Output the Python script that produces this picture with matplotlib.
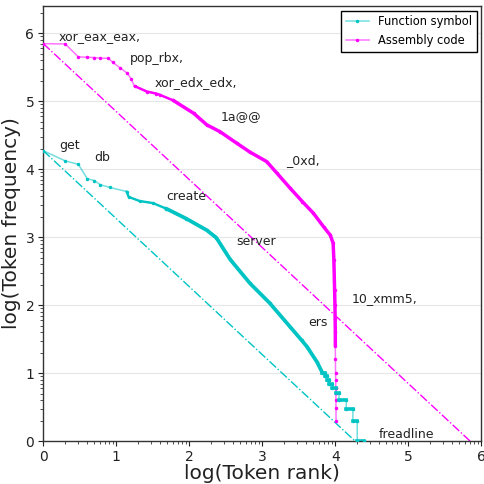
import numpy as np
import matplotlib
matplotlib.use("Agg")
import matplotlib.pyplot as plt
from matplotlib.ticker import FixedLocator

# ---------------- data (log10 rank, log10 frequency) ----------------
asm_x = [0.00, 0.30, 0.48, 0.60, 0.70, 0.78, 0.89, 0.95, 1.05, 1.15, 1.20, 1.25,
         1.42, 1.55, 1.60, 1.78, 2.06, 2.24, 2.42, 2.65, 2.83, 3.06, 3.20, 3.38,
         3.55, 3.70, 3.84, 3.93, 3.97, 3.98, 3.99, 3.995, 3.997, 4.000, 4.000,
         4.001, 4.003, 4.005, 4.006, 4.007, 4.008, 4.009, 4.010]
asm_y = [5.845, 5.84, 5.65, 5.645, 5.64, 5.63, 5.63, 5.57, 5.49, 5.41, 5.33, 5.22,
         5.14, 5.11, 5.09, 5.01, 4.82, 4.65, 4.55, 4.38, 4.25, 4.11, 3.94, 3.72,
         3.52, 3.35, 3.15, 3.03, 2.91, 2.66, 2.22, 2.00, 1.80, 1.60, 1.40,
         1.20, 1.00, 0.90, 0.78, 0.70, 0.60, 0.48, 0.30]

sym_x = [0.00, 0.30, 0.48, 0.60, 0.70, 0.78, 0.91, 1.14, 1.17, 1.32, 1.50, 1.68,
         1.96, 2.24, 2.37, 2.56, 2.83, 3.10, 3.38, 3.54, 3.61, 3.75, 3.82]
sym_y = [4.27, 4.12, 4.07, 3.86, 3.83, 3.77, 3.73, 3.67, 3.59, 3.53, 3.50, 3.42,
         3.27, 3.10, 2.99, 2.67, 2.32, 2.03, 1.68, 1.48, 1.39, 1.16, 1.01]

# tail of Function symbol: integer frequencies (log10) with rank spans
step_y = [1.000, 0.954, 0.903, 0.845, 0.778, 0.699, 0.602, 0.477, 0.301, 0.000]
step_x0 = [3.82, 3.86, 3.88, 3.91, 3.96, 4.01, 4.05, 4.15, 4.24, 4.30]
step_x1 = [3.86, 3.88, 3.91, 3.96, 4.01, 4.05, 4.15, 4.24, 4.30, 4.39]

labels_asm = ["xor_eax_eax,", "pop_rbx,", "xor_edx_edx,", "1a@@", "_0xd,", "10_xmm5,"]
labels_asm_x = [0.215, 1.19, 1.52, 2.43, 3.32, 4.23]
labels_asm_y = [5.94, 5.63, 5.28, 4.77, 4.12, 2.09]

labels_sym = ["get", "db", "create", "server", "ers", "freadline"]
labels_sym_x = [0.22, 0.70, 1.69, 2.64, 3.63, 4.60]
labels_sym_y = [4.35, 4.17, 3.59, 2.93, 1.74, 0.09]

series_names = ["Function symbol", "Assembly code"]

# ---------------- plotting ----------------
CYAN = "#00c4c4"
MAG = "#ff00ff"

fig = plt.figure(figsize=(4.84, 4.84), dpi=100)
ax = fig.add_axes([0.0895, 0.0888, 0.905, 0.899])

def faded(c, a):
    r, g, b, _ = matplotlib.colors.to_rgba(c)
    return (r, g, b, a)

# full symbol series (continuous + step tail)
full_sym_x = list(sym_x)
full_sym_y = list(sym_y)
for y, a, b in zip(step_y, step_x0, step_x1):
    full_sym_x += [a, b]
    full_sym_y += [y, y]

for xs, ys, col, name in [(full_sym_x, full_sym_y, CYAN, series_names[0]),
                          (asm_x, asm_y, MAG, series_names[1])]:
    ax.plot(xs, ys, '-', color=faded(col, 0.55), lw=1.1, marker='.',
            markersize=3, markerfacecolor=col, markeredgecolor=col,
            label=name, zorder=3)

# dense-region emphasis (overlapping markers in the original)
def overlay(xs, ys, col, xmin, xmax, lw, ymin=-1):
    px = [x for x, y in zip(xs, ys) if xmin <= x <= xmax and y >= ymin]
    py = [y for x, y in zip(xs, ys) if xmin <= x <= xmax and y >= ymin]
    ax.plot(px, py, '-', color=col, lw=lw, solid_capstyle='round', zorder=3)

overlay(sym_x, sym_y, CYAN, 1.14, 1.70, 1.7)
overlay(sym_x, sym_y, CYAN, 1.68, 9, 2.7)
overlay(asm_x, asm_y, MAG, 1.25, 1.80, 1.8)
overlay(asm_x, asm_y, MAG, 1.78, 9, 2.5, ymin=1.4)
for y, a, b in zip(step_y, step_x0, step_x1):
    ax.plot([a, b], [y, y], '-', color=CYAN, lw=2.6, zorder=3)

# Zipf reference lines (slope -1 through first point)
ax.plot([0, sym_y[0]], [sym_y[0], 0], linestyle='-.', color=CYAN, lw=1.0, zorder=2)
ax.plot([0, asm_y[0]], [asm_y[0], 0], linestyle='-.', color=MAG, lw=1.0, zorder=2)

for t, x, y in zip(labels_asm, labels_asm_x, labels_asm_y):
    ax.text(x, y, t, fontsize=9, va='center', ha='left', color='#222222')
for t, x, y in zip(labels_sym, labels_sym_x, labels_sym_y):
    ax.text(x, y, t, fontsize=9, va='center', ha='left', color='#222222')

ax.set_xlim(0, 6)
ax.set_ylim(0, 6.4)
ax.set_xticks(range(7))
ax.set_yticks(range(7))
minor = [n + np.log10(k) for n in range(7) for k in range(2, 10)]
ax.xaxis.set_minor_locator(FixedLocator([m for m in minor if m < 6]))
ax.yaxis.set_minor_locator(FixedLocator([m for m in minor if m < 6.4]))
ax.tick_params(which='major', length=3.5, width=0.8, labelsize=10, colors='#222222', pad=3)
ax.tick_params(which='minor', length=2, width=0.6, colors='#333333')
ax.grid(axis='y', color='#e6e6e6', lw=0.8, zorder=0)
ax.set_axisbelow(True)
for s in ax.spines.values():
    s.set_color('#333333')
    s.set_linewidth(1.0)

ax.set_xlabel("log(Token rank)", fontsize=14.5, labelpad=0, color='#222222')
ax.set_ylabel("log(Token frequency)", fontsize=14.5, labelpad=3, color='#222222')

leg = ax.legend(loc='upper right', fontsize=8.3, fancybox=False, framealpha=1,
                edgecolor='black', borderaxespad=0.4)
leg.get_frame().set_linewidth(1.0)

fig.savefig("out.png", dpi=100)
